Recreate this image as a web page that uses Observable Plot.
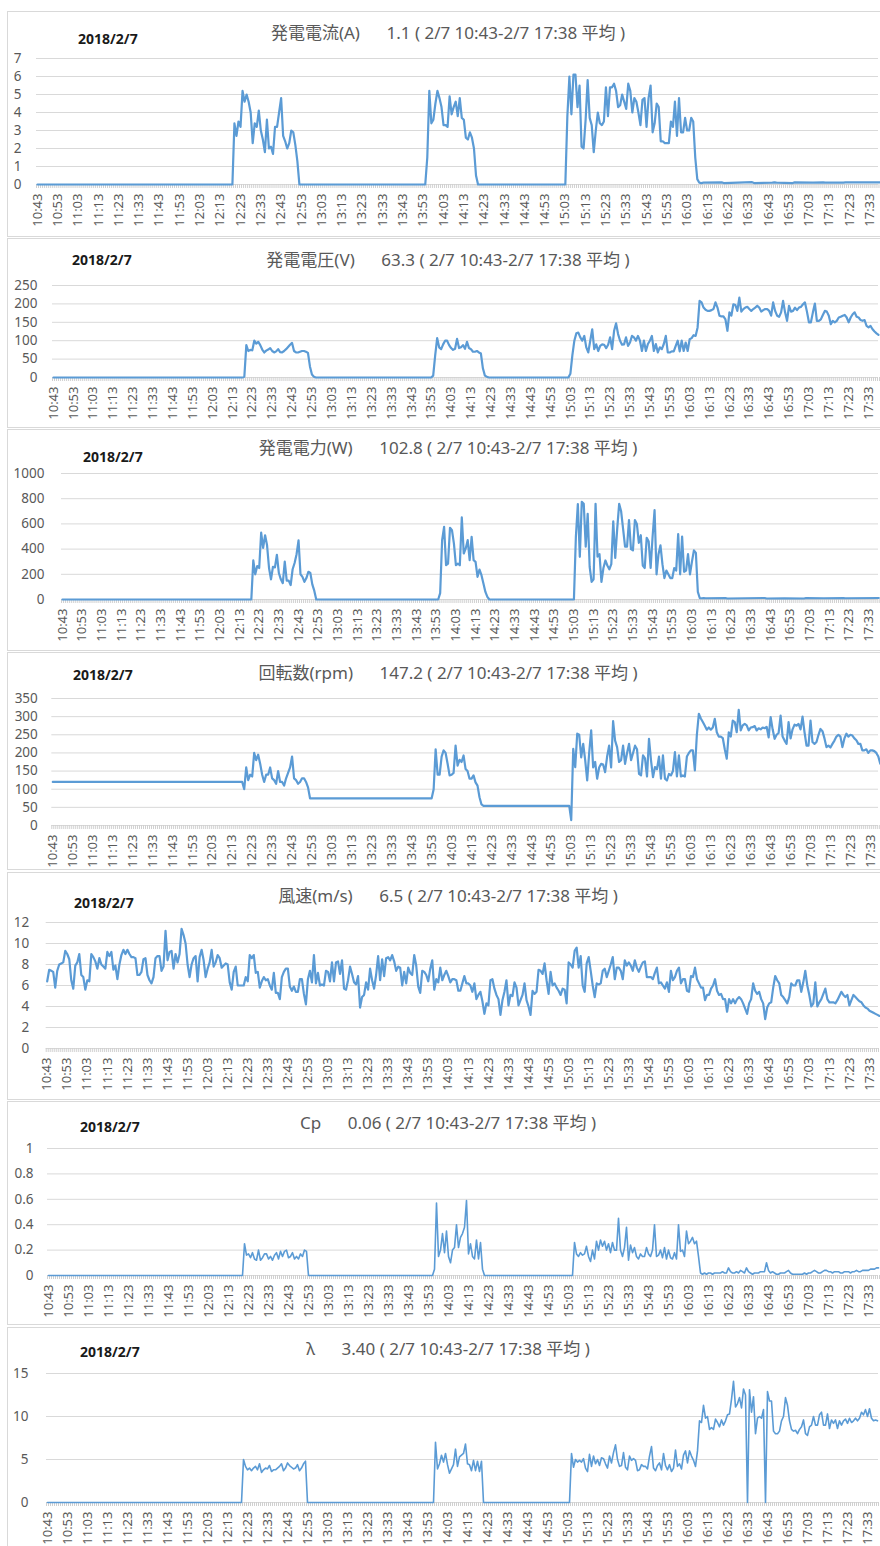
<!DOCTYPE html>
<html><head><meta charset="utf-8">
<script src="https://cdn.jsdelivr.net/npm/d3@7"></script>
<script src="https://cdn.jsdelivr.net/npm/@observablehq/plot@0.6"></script>
<style>
body{margin:0;background:#fff;}
#root{position:relative;width:880px;height:1546px;overflow:hidden;background:#fff;}
.box{position:absolute;border:1px solid #d9d9d9;box-sizing:border-box;}
.title{position:absolute;font-family:'Noto Sans','Noto Sans CJK JP',sans-serif;font-size:17px;color:#595959;white-space:pre;transform:translate(-50%,-50%);line-height:1;}
.date{position:absolute;font-family:'Noto Sans','Noto Sans CJK JP',sans-serif;font-weight:bold;font-size:14px;color:#1a1a1a;transform:translateY(-50%);line-height:1;}
.plot{position:absolute;left:0;}
</style></head><body><div id="root"></div>
<script>
// ---------- categories / labels ----------
const startTime = "10:43", endTime = "17:38";
const dateText = "2018/2/7";
const periodText = "( 2/7 10:43-2/7 17:38 平均 )";
const titleNames = ["発電電流(A)", "発電電圧(V)", "発電電力(W)", "回転数(rpm)", "風速(m/s)", "Cp", "λ"];
const averages = ["1.1", "63.3", "102.8", "147.2", "6.5", "0.06", "3.40"];
const yTicks = [
  [0, 1, 2, 3, 4, 5, 6, 7],
  [0, 50, 100, 150, 200, 250],
  [0, 200, 400, 600, 800, 1000],
  [0, 50, 100, 150, 200, 250, 300, 350],
  [0, 2, 4, 6, 8, 10, 12],
  [0, 0.2, 0.4, 0.6, 0.8, 1],
  [0, 5, 10, 15]
];

// ---------- series (runs: start time, consecutive per-minute values) ----------
const currentA = [
  ["10:43", [0]],
  ["12:19", [0, 3.4, 2.7, 3.5]],
  ["12:23", [3.2, 5.2, 4.6, 5.0, 4.6, 4.0, 2.3, 3.4, 3.2, 4.1]],
  ["12:33", [3.0, 2.5, 1.8, 3.6, 2.0, 2.1, 1.7, 3.2, 3.2, 4.0]],
  ["12:43", [4.8, 2.7, 2.4, 2.0, 2.3, 3.0, 2.9, 2.2, 1.3, 0]],
  ["13:53", [0, 0, 1.5, 5.2, 3.4, 3.6, 4.5, 5.2, 4.8, 4.3]],
  ["14:03", [3.3, 3.3, 3.2, 4.9, 3.9, 4.3, 4.6, 3.8, 4.8, 3.7]],
  ["14:13", [3.6, 2.6, 2.5, 2.9, 2.6, 2.0, 0.5, 0]],
  ["15:03", [0, 3.8, 6.0, 3.9, 6.1, 6.1, 4.3, 5.5, 2.1, 2.0]],
  ["15:13", [3.6, 5.8, 3.7, 3.3, 1.8, 3.0, 4.0, 3.4, 3.3, 3.5]],
  ["15:23", [5.4, 3.8, 5.4, 5.4, 5.6, 5.2, 4.3, 4.4, 5.0, 4.6]],
  ["15:33", [4.2, 5.6, 5.2, 4.0, 4.8, 4.6, 4.0, 3.3, 4.7, 4.8]],
  ["15:43", [3.2, 4.8, 5.5, 2.9, 3.4, 4.5, 4.3, 2.4, 2.4, 2.3]],
  ["15:53", [2.3, 2.3, 3.5, 3.2, 4.6, 2.7, 4.8, 2.9, 2.9, 3.7]],
  ["16:03", [3.0, 3.0, 3.7, 3.5, 1.5, 0.3, 0.1, 0.08, 0.1]],
  ["16:20", [0.12, 0.08]], ["16:28", [0.1]], ["16:35", [0.13, 0.08]],
  ["16:45", [0.1, 0.12, 0.1]], ["16:55", [0.08, 0.12]], ["17:05", [0.1]],
  ["17:10", [0.12, 0.1]], ["17:20", [0.1, 0.12]], ["17:30", [0.12]], ["17:38", [0.12]]
];

const voltageV = [
  ["10:43", [0]],
  ["12:18", [0, 2, 88, 72, 75]],
  ["12:23", [74, 100, 92, 97, 88, 76, 68, 73, 76, 80]],
  ["12:33", [72, 68, 71, 77, 69, 68, 72, 77, 83, 89]],
  ["12:43", [94, 72, 68, 68, 70, 72, 72, 70, 67, 30]],
  ["12:53", [8, 2, 0]],
  ["13:53", [0, 5, 60, 107, 82, 77, 90, 100, 100, 88]],
  ["14:03", [80, 75, 78, 105, 80, 82, 88, 78, 97, 80]],
  ["14:13", [77, 70, 70, 72, 68, 65, 25, 5, 2, 0]],
  ["15:02", [0]],
  ["15:03", [10, 60, 100, 120, 122, 109, 100, 113, 82, 68]],
  ["15:13", [100, 131, 77, 90, 72, 86, 90, 89, 80, 89]],
  ["15:23", [109, 77, 127, 147, 118, 100, 89, 90, 109, 86]],
  ["15:33", [95, 113, 109, 100, 113, 100, 72, 100, 72, 91]],
  ["15:43", [100, 113, 72, 91, 68, 82, 77, 91, 113, 68]],
  ["15:53", [68, 71, 71, 86, 100, 71, 100, 72, 95, 72]],
  ["16:03", [104, 107, 115, 113, 136, 208, 204, 190, 184, 181]],
  ["16:13", [181, 183, 186, 204, 190, 168, 166, 166, 158, 127]],
  ["16:23", [177, 168, 199, 197, 181, 217, 179, 186, 190, 192]],
  ["16:33", [186, 181, 186, 190, 195, 190, 179, 183, 186, 186]],
  ["16:43", [181, 168, 204, 181, 168, 165, 177, 208, 177, 154]],
  ["16:53", [195, 179, 181, 190, 183, 190, 192, 199, 204, 179]],
  ["17:03", [150, 150, 177, 201, 154, 154, 158, 170, 181, 179]],
  ["17:13", [168, 145, 154, 150, 154, 163, 165, 168, 170, 163]],
  ["17:23", [150, 163, 172, 177, 165, 163, 156, 154, 156, 140]],
  ["17:33", [136, 140, 131, 125, 120, 116]]
];

const powerW = [
  ["10:43", [0]],
  ["12:19", [0, 310, 200, 265]],
  ["12:23", [250, 530, 410, 510, 430, 250, 160, 260, 255, 355]],
  ["12:33", [210, 160, 130, 300, 150, 150, 115, 240, 290, 360]],
  ["12:43", [470, 200, 180, 140, 170, 220, 210, 120, 70, 0]],
  ["13:54", [0, 50, 470, 577, 272, 285, 569, 550, 444]],
  ["14:03", [272, 285, 272, 651, 365, 405, 471, 312, 497, 312]],
  ["14:13", [299, 180, 238, 193, 127, 60, 21, 0]],
  ["15:03", [0, 500, 757, 339, 775, 760, 420, 680, 260, 140]],
  ["15:13", [160, 760, 340, 360, 140, 250, 310, 270, 240, 280]],
  ["15:23", [620, 330, 560, 760, 700, 560, 420, 420, 630, 400]],
  ["15:33", [390, 630, 600, 450, 510, 270, 250, 490, 460, 250]],
  ["15:43", [500, 709, 200, 360, 430, 280, 170, 230, 200, 170]],
  ["15:53", [170, 250, 230, 520, 200, 500, 220, 230, 360, 200]],
  ["16:03", [300, 390, 370, 60, 10, 10, 12, 10]],
  ["16:20", [12, 8]], ["16:30", [10]], ["16:40", [12, 8]], ["16:50", [10]],
  ["17:00", [8, 12]], ["17:10", [10]], ["17:20", [12, 10]], ["17:38", [12]]
];

const rpm = [
  ["10:43", [120]],
  ["12:18", [120, 100, 160, 125, 140]],
  ["12:23", [135, 200, 180, 195, 170, 140, 120, 140, 140, 160]],
  ["12:33", [130, 125, 115, 150, 120, 120, 110, 130, 145, 160]],
  ["12:43", [190, 130, 125, 115, 120, 130, 130, 120, 105, 75]],
  ["13:53", [75, 100, 210, 140, 140, 190, 207, 200, 170, 138]],
  ["14:03", [140, 145, 220, 165, 181, 175, 193, 156, 150, 129]],
  ["14:13", [129, 138, 119, 110, 78, 58, 54]],
  ["15:02", [54]],
  ["15:03", [15, 211, 161, 253, 250, 188, 225, 180, 124, 200]],
  ["15:13", [262, 160, 175, 129, 160, 170, 168, 147, 190, 220]],
  ["15:23", [160, 288, 234, 216, 175, 180, 220, 170, 200, 225]],
  ["15:33", [180, 200, 220, 210, 142, 138, 193, 185, 135, 239]],
  ["15:43", [180, 133, 161, 155, 190, 129, 193, 129, 124, 142]],
  ["15:53", [138, 150, 202, 135, 193, 135, 138, 135, 190, 200]],
  ["16:03", [207, 207, 152, 250, 308, 295, 285, 275, 264, 270]],
  ["16:13", [264, 270, 294, 257, 245, 245, 241, 210, 184, 257]],
  ["16:23", [245, 289, 285, 257, 319, 262, 276, 280, 276, 262]],
  ["16:33", [270, 271, 274, 262, 268, 265, 270, 268, 272, 243]],
  ["16:43", [299, 265, 239, 250, 255, 303, 245, 234, 225, 285]],
  ["16:53", [240, 265, 278, 275, 280, 265, 300, 257, 220, 220]],
  ["17:03", [289, 230, 225, 230, 250, 266, 260, 240, 216, 220]],
  ["17:13", [215, 225, 234, 245, 250, 245, 216, 240, 253, 245]],
  ["17:23", [250, 248, 240, 235, 225, 225, 207, 207, 210, 200]],
  ["17:33", [207, 207, 205, 200, 190, 170]]
];

const windSpeed = [
  ["10:43", [6.4, 7.5, 7.4, 7.3, 5.8, 7.4, 8.0, 8.1, 8.2, 9.3]],
  ["10:53", [9.0, 8.5, 6.5, 5.7, 7.9, 8.2, 9.0, 7.0, 6.8, 5.6]],
  ["11:03", [6.5, 6.4, 9.0, 8.7, 8.3, 7.6, 8.6, 8.0, 7.8, 7.6]],
  ["11:13", [9.2, 8.8, 9.2, 7.5, 7.9, 6.6, 8.0, 8.9, 9.4, 9.0]],
  ["11:23", [9.4, 9.0, 8.7, 8.7, 8.6, 7.0, 7.0, 7.3, 8.5, 8.6]],
  ["11:33", [7.0, 6.5, 6.2, 6.8, 8.6, 8.8, 8.8, 7.4, 7.8, 11.2]],
  ["11:43", [8.4, 9.2, 9.3, 7.6, 9.0, 8.2, 9.0, 11.4, 10.8, 10.0]],
  ["11:53", [8.0, 6.8, 8.0, 8.6, 8.8, 6.4, 8.7, 9.4, 8.4, 6.8]],
  ["12:03", [7.6, 8.2, 9.4, 7.8, 8.2, 8.9, 8.6, 7.7, 7.9, 8.1]],
  ["12:13", [8.0, 6.3, 5.6, 7.3, 7.8, 6.0, 6.0, 6.0, 6.0, 6.8]],
  ["12:23", [6.4, 8.9, 8.6, 8.9, 7.2, 7.3, 5.8, 6.4, 6.8, 6.5]],
  ["12:33", [6.6, 6.0, 5.6, 7.2, 5.3, 5.3, 4.7, 6.8, 7.3, 7.6]],
  ["12:43", [7.6, 5.9, 5.5, 5.9, 5.4, 5.4, 6.6, 6.6, 5.2, 4.2]],
  ["12:53", [6.6, 7.4, 6.3, 8.9, 6.2, 7.2, 6.0, 6.1, 6.0, 7.4]],
  ["13:03", [7.3, 6.4, 8.2, 6.4, 8.2, 8.3, 7.1, 8.4, 5.7, 5.6]],
  ["13:13", [6.5, 7.8, 7.1, 6.3, 6.1, 6.9, 3.9, 4.9, 5.1, 6.3]],
  ["13:23", [5.6, 7.6, 6.5, 5.7, 7.0, 8.8, 6.5, 8.5, 6.9, 8.6]],
  ["13:33", [8.7, 8.4, 8.9, 8.3, 7.4, 7.8, 7.7, 6.0, 7.3, 6.2]],
  ["13:43", [7.7, 7.2, 7.0, 8.9, 7.9, 5.9, 5.3, 7.4, 7.3, 7.0]],
  ["13:53", [6.4, 7.6, 8.4, 5.6, 6.6, 6.3, 7.7, 6.5, 7.0, 7.4]],
  ["14:03", [6.9, 6.3, 6.6, 6.6, 6.5, 5.5, 5.5, 6.2, 6.9, 6.2]],
  ["14:13", [6.2, 6.0, 5.4, 6.2, 4.7, 5.1, 5.4, 4.5, 3.3, 4.3]],
  ["14:23", [4.1, 6.5, 6.6, 5.7, 5.1, 4.7, 3.2, 4.6, 5.4, 6.5]],
  ["14:33", [4.1, 5.1, 5.0, 6.3, 5.8, 4.1, 4.6, 5.1, 6.2, 4.6]],
  ["14:43", [4.0, 3.2, 5.5, 5.2, 5.4, 7.5, 7.4, 7.1, 8.1, 6.5]],
  ["14:53", [5.2, 7.3, 6.0, 6.2, 5.8, 5.5, 5.1, 5.7, 5.6, 4.3]],
  ["15:03", [8.2, 8.0, 7.7, 9.3, 9.6, 7.7, 8.8, 6.0, 5.4, 8.1]],
  ["15:13", [8.7, 7.4, 6.0, 4.9, 6.2, 6.1, 6.2, 7.4, 7.6, 6.8]],
  ["15:23", [7.4, 8.0, 8.7, 6.6, 7.7, 7.7, 7.4, 6.6, 8.4, 7.9]],
  ["15:33", [8.2, 7.9, 7.4, 8.4, 7.7, 7.3, 7.8, 8.2, 8.3, 6.8]],
  ["15:43", [6.8, 6.8, 6.6, 7.2, 7.7, 6.2, 6.3, 6.0, 5.7, 6.3]],
  ["15:53", [5.4, 7.4, 6.5, 6.8, 7.4, 7.7, 6.2, 6.6, 6.6, 5.5]],
  ["16:03", [5.4, 6.9, 6.8, 7.7, 6.6, 6.2, 5.8, 5.8, 4.6, 5.1]],
  ["16:13", [5.1, 5.7, 6.0, 6.6, 5.5, 5.1, 5.2, 4.7, 4.7, 3.5]],
  ["16:23", [4.7, 4.3, 4.7, 4.3, 4.7, 4.9, 4.7, 4.3, 3.8, 3.3]],
  ["16:33", [4.3, 4.7, 6.2, 5.5, 5.2, 5.4, 4.7, 4.3, 2.8, 3.9]],
  ["16:43", [4.3, 4.4, 5.8, 6.9, 6.5, 6.2, 5.1, 4.9, 4.6, 4.3]],
  ["16:53", [4.9, 6.2, 6.0, 6.0, 6.5, 6.5, 5.4, 6.3, 7.4, 6.0]],
  ["17:03", [5.1, 4.0, 4.3, 6.3, 4.0, 4.4, 4.7, 5.2, 5.7, 4.7]],
  ["17:13", [4.4, 4.4, 4.4, 4.3, 4.6, 5.0, 5.4, 5.1, 4.9, 5.1]],
  ["17:23", [4.1, 4.6, 5.1, 4.9, 4.7, 4.5, 4.4, 4.1, 3.9, 3.8]],
  ["17:33", [3.6, 3.5, 3.4, 3.3, 3.2, 3.1]]
];

const cp = [
  ["10:43", [0]],
  ["12:20", [0, 0.25, 0.16]],
  ["12:23", [0.17, 0.14, 0.18, 0.13, 0.12, 0.20, 0.12, 0.14, 0.17, 0.17]],
  ["12:33", [0.13, 0.15, 0.12, 0.16, 0.18, 0.13, 0.19, 0.15, 0.19, 0.20]],
  ["12:43", [0.14, 0.15, 0.18, 0.13, 0.15, 0.13, 0.17, 0.15, 0.20, 0.19]],
  ["12:53", [0]],
  ["13:55", [0, 0.05, 0.57, 0.15, 0.2, 0.33, 0.18, 0.35, 0.15, 0.1, 0.2, 0.22, 0.4, 0.22, 0.3, 0.33, 0.38, 0.59, 0.17, 0.25, 0.15, 0.13, 0.28, 0.13, 0.26, 0.05, 0]],
  ["15:05", [0, 0.26, 0.17, 0.15, 0.18, 0.16, 0.17, 0.23, 0.15, 0.11,
             0.2, 0.13, 0.27, 0.2, 0.28, 0.23, 0.27, 0.2, 0.25, 0.18,
             0.26, 0.2, 0.2, 0.45, 0.2, 0.15, 0.22, 0.38, 0.12, 0.24,
             0.18, 0.22, 0.15, 0.13, 0.17, 0.15, 0.15, 0.22, 0.17, 0.15,
             0.2, 0.4, 0.15, 0.16, 0.2, 0.14, 0.22, 0.13, 0.2, 0.14,
             0.13, 0.18, 0.13, 0.4, 0.19, 0.2, 0.15, 0.35, 0.25, 0.27,
             0.3, 0.25, 0.27, 0.15, 0.02, 0.01, 0.02, 0.01, 0.02]],
  ["16:14", [0.02, 0.01, 0.02, 0.02, 0.02, 0.02, 0.03, 0.02, 0.02, 0.06]],
  ["16:24", [0.03, 0.02, 0.02, 0.03, 0.02, 0.04, 0.03, 0.02, 0.06, 0.03]],
  ["16:34", [0.02, 0.01, 0.02, 0.02, 0.02, 0.03, 0.03, 0.03, 0.10, 0.04]],
  ["16:44", [0.02, 0.03, 0.02, 0.01, 0.01, 0.02, 0.02, 0.02, 0.03, 0.04]],
  ["16:54", [0.02, 0.01, 0.01, 0.01, 0.01, 0.01, 0.01, 0.02, 0.01, 0.02]],
  ["17:04", [0.02, 0.03, 0.04, 0.03, 0.02, 0.02, 0.03, 0.04, 0.04, 0.03]],
  ["17:14", [0.03, 0.02, 0.03, 0.03, 0.03, 0.02, 0.02, 0.03, 0.03, 0.03]],
  ["17:24", [0.02, 0.03, 0.03, 0.04, 0.03, 0.03, 0.04, 0.04, 0.04, 0.04]],
  ["17:34", [0.05, 0.05, 0.05, 0.06, 0.06]]
];

const lambda = [
  ["10:43", [0]],
  ["12:20", [0, 5.0, 4.2, 3.8, 4.0, 3.7, 4.0, 4.2, 3.8, 4.5, 3.5, 3.8, 4.0, 3.9, 4.3, 3.6, 3.8, 3.8, 4.0, 4.2, 4.5, 3.7, 4.0, 4.6, 4.3, 4.1, 3.9, 4.0, 4.4, 3.7, 4.0, 4.5, 4.8, 0]],
  ["13:56", [0, 7.0, 3.9, 4.5, 5.5, 4.7, 5.7, 4.4, 3.4, 3.9, 4.4, 6.2, 4.2, 5.3, 5.5, 5.7, 6.8, 4.5, 4.4, 3.7, 4.9, 3.7, 4.8, 3.6, 4.8, 0]],
  ["15:04", [0, 5.7, 4.1, 5.0, 4.7, 4.9, 4.7, 5.1, 4.0, 3.6,
             5.6, 4.2, 5.4, 4.5, 5.0, 4.3, 5.2, 5.1, 4.5, 4.0,
             5.4, 4.6, 5.8, 6.7, 5.0, 4.2, 4.3, 5.8, 4.1, 3.8,
             5.4, 4.9, 5.1, 4.9, 3.7, 3.8, 4.4, 4.2, 4.2, 3.9,
             5.4, 6.5, 4.0, 3.7, 4.3, 4.6, 3.8, 5.7, 4.3, 3.8,
             4.4, 3.6, 4.0, 6.1, 4.2, 4.5, 3.9, 5.5, 6.0, 4.6,
             6.0, 5.4, 4.9, 4.2, 6.0, 9.5, 9.3, 11.3, 9.8, 10.0,
             8.5, 8.7, 8.5, 9.7, 9.3, 8.8, 9.6, 9.0, 9.5, 10.2,
             10.3, 12.0, 14.1, 11.1, 11.5, 12.2, 11.0, 13.2, 12.5, 0,
             13.1, 10.5, 12.3, 8.0, 9.8, 10.0, 9.8, 10.8, 0, 12.9,
             11.8, 11.8, 8.3, 8.0, 8.0, 8.3, 9.5, 10.0, 12.2, 11.3,
             9.5, 8.5, 8.3, 8.4, 8.0, 8.5, 8.8, 9.6, 8.0, 7.8,
             8.8, 9.0, 10.0, 9.0, 9.0, 10.2, 10.5, 9.0, 9.0, 10.3,
             8.6, 9.6, 9.2, 9.6, 8.6, 9.5, 9.0, 9.5, 9.7, 9.2,
             9.8, 9.3, 9.5, 9.8, 9.5, 9.8, 10.5, 10.2, 10.8, 10.0,
             10.9, 9.8, 9.5, 9.6, 9.5]]
];

// ---------- helpers ----------
function toMin(t) { const [h, m] = t.split(":").map(Number); return h * 60 + m; }
const t0 = toMin(startTime);
const nCat = toMin(endTime) - t0 + 1;
const timeLabels = d3.range(nCat).map(i => { const m = t0 + i; return `${Math.floor(m / 60)}:${String(m % 60).padStart(2, "0")}`; });
const labelTicks = d3.range(0, nCat, 10);
const boundaries = d3.range(-0.5, nCat, 1);
function expand(runs) {
  const out = [];
  for (const [t, vals] of runs) { const s = toMin(t) - t0; vals.forEach((v, k) => out.push({i: s + k, v})); }
  return out.sort((a, b) => a.i - b.i);
}

const seriesList = [currentA, voltageV, powerW, rpm, windSpeed, cp, lambda];
const layout = [
  {top: 11,   bottom: 236,  y0: 184,  yTop: 58,   L: 36,   R: 880.5, pad: 15, titleY: 32,   dateX: 78, dateY: 39,   sw: 2.2},
  {top: 238,  bottom: 427,  y0: 377,  yTop: 285,  L: 52,   R: 879,   pad: 15, titleY: 259,  dateX: 72, dateY: 260,  sw: 2.2},
  {top: 429,  bottom: 650,  y0: 599,  yTop: 473,  L: 61,   R: 879.3, pad: 17, titleY: 447,  dateX: 83, dateY: 457,  sw: 2.2},
  {top: 652,  bottom: 869,  y0: 825,  yTop: 698,  L: 51.3, R: 880.8, pad: 14, titleY: 672,  dateX: 73, dateY: 675,  sw: 2.2},
  {top: 872,  bottom: 1099, y0: 1048, yTop: 922,  L: 45.7, R: 880,   pad: 17, titleY: 895,  dateX: 74, dateY: 903,  sw: 2.2},
  {top: 1101, bottom: 1324, y0: 1275, yTop: 1148, L: 47,   R: 879,   pad: 14, titleY: 1122, dateX: 80, dateY: 1127, sw: 1.6},
  {top: 1327, bottom: 1547, y0: 1502, yTop: 1373, L: 46,   R: 878,   pad: 18, titleY: 1348, dateX: 80, dateY: 1352, sw: 1.6}
];

const root = document.getElementById("root");
layout.forEach((p, k) => {
  const box = document.createElement("div");
  box.className = "box";
  Object.assign(box.style, {left: "7px", top: p.top + "px", width: "900px", height: (p.bottom - p.top + 1) + "px"});
  root.appendChild(box);

  const ticks = yTicks[k];
  const h = p.bottom - p.top;
  const svg = Plot.plot({
    width: 880, height: h,
    marginLeft: p.L, marginRight: 2, marginTop: p.yTop - p.top, marginBottom: p.bottom - p.y0,
    x: {type: "linear", domain: [-0.5, nCat - 0.5], range: [p.L, p.R], label: null},
    y: {type: "linear", domain: [0, ticks[ticks.length - 1]], range: [p.y0 - p.top, p.yTop - p.top], label: null},
    style: {fontFamily: "'Noto Sans','Noto Sans CJK JP',sans-serif", color: "#595959", background: "transparent", overflow: "visible"},
    marks: [
      Plot.gridY({ticks, stroke: "#d9d9d9", strokeOpacity: 1, strokeWidth: 1}),
      Plot.axisY({ticks, tickSize: 0, tickPadding: p.pad, fontSize: 13.5, tickFormat: d => String(d), label: null}),
      Plot.axisX({ticks: boundaries, tickSize: 4, tickFormat: () => "", stroke: "#d0d0d0", strokeOpacity: 1, label: null}),
      Plot.axisX({ticks: labelTicks, tickSize: 0, tickPadding: 9, tickRotate: -90, fontSize: 13, tickFormat: i => timeLabels[i], label: null}),
      Plot.line(expand(seriesList[k]), {x: "i", y: "v", stroke: "#5B9BD5", strokeWidth: p.sw})
    ]
  });
  const wrap = document.createElement("div");
  wrap.className = "plot";
  wrap.style.top = p.top + "px";
  wrap.appendChild(svg);
  root.appendChild(wrap);

  const title = document.createElement("div");
  title.className = "title";
  title.textContent = `${titleNames[k]}      ${averages[k]} ${periodText}`;
  Object.assign(title.style, {left: "448px", top: p.titleY + "px"});
  root.appendChild(title);

  const date = document.createElement("div");
  date.className = "date";
  date.textContent = dateText;
  Object.assign(date.style, {left: p.dateX + "px", top: p.dateY + "px"});
  root.appendChild(date);
});
</script></body></html>
